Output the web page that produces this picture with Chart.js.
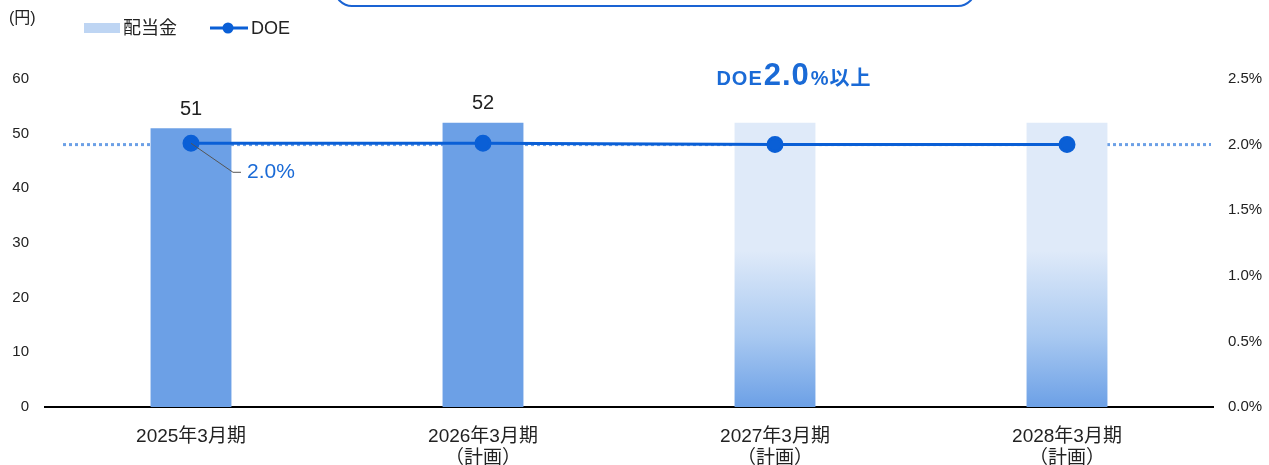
<!DOCTYPE html>
<html>
<head>
<meta charset="utf-8">
<script src="https://cdn.jsdelivr.net/npm/chart.js@4"></script>
<style>
  html, body { margin: 0; padding: 0; background: #fff; }
  #wrap { position: relative; width: 1269px; height: 465px; overflow: hidden; }
  #topbox { position: absolute; left: 334px; top: -40px; width: 638px; height: 43px;
            border: 2px solid #1a63d3; border-radius: 18px; }
</style>
</head>
<body>
<div id="wrap">
  <div id="topbox"></div>
  <canvas id="chart" width="1269" height="465"></canvas>
</div>
<script>
const categories = [['2025年3月期'], ['2026年3月期', '（計画）'], ['2027年3月期', '（計画）'], ['2028年3月期', '（計画）']]
const dividend = [51, 52, 52, 52]
const doe = [2.01, 2.01, 2.0, 2.0]
const planGradient = [false, false, true, true]
const showValue = [true, true, false, false]
const yTicks = [0, 10, 20, 30, 40, 50, 60]
const y1Ticks = [0, 0.5, 1.0, 1.5, 2.0, 2.5]
const doeTarget = 2.0

const font = '"Liberation Sans", "Noto Sans CJK JP", sans-serif'
const barBlue = '#6ca0e6'
const lightBlue = '#dfeaf9'
const lineBlue = '#0a5fd6'
const textBlue = '#1a6ad6'

const ctx = document.getElementById('chart');

function barColor(c) {
  const i = c.dataIndex;
  if (!planGradient[i]) return barBlue;
  const chart = c.chart;
  const area = chart.chartArea;
  if (!area) return lightBlue;
  const y = chart.scales.y;
  const top = y.getPixelForValue(dividend[i]);
  const g = chart.ctx.createLinearGradient(0, top, 0, area.bottom);
  g.addColorStop(0, lightBlue);
  g.addColorStop(0.45, lightBlue);
  g.addColorStop(0.75, '#a9c9f1');
  g.addColorStop(1, barBlue);
  return g;
}

// dotted 2.0% target line behind the bars
const targetLine = {
  id: 'targetLine',
  beforeDatasetsDraw(chart) {
    const c = chart.ctx;
    const y = chart.scales.y1.getPixelForValue(doeTarget);
    c.save();
    c.strokeStyle = barBlue;
    c.lineWidth = 3;
    c.setLineDash([3, 3]);
    c.beginPath();
    c.moveTo(chart.chartArea.left + 18, y);
    c.lineTo(chart.chartArea.right - 2, y);
    c.stroke();
    c.restore();
  }
};

const extras = {
  id: 'extras',
  afterDraw(chart) {
    const c = chart.ctx;
    const x = chart.scales.x;
    const y = chart.scales.y;
    const y1 = chart.scales.y1;
    c.save();
    c.textBaseline = 'middle';

    // value labels
    c.fillStyle = '#222';
    c.font = '20px ' + font;
    c.textAlign = 'center';
    dividend.forEach((v, i) => {
      if (!showValue[i]) return;
      c.fillText(String(v), x.getPixelForValue(i), y.getPixelForValue(v) - 19);
    });

    // DOE leader + label
    const px = x.getPixelForValue(0), py = y1.getPixelForValue(doe[0]);
    c.strokeStyle = '#555';
    c.lineWidth = 1;
    c.beginPath();
    c.moveTo(px, py);
    c.lineTo(px + 42, py + 29);
    c.lineTo(px + 50, py + 29);
    c.stroke();
    c.fillStyle = textBlue;
    c.textAlign = 'left';
    c.font = '21px ' + font;
    c.fillText(doe[0].toFixed(1) + '%', px + 56, py + 29);

    // DOE2.0%以上 note
    const parts = [['DOE', 'bold 20px '], ['2.0', 'bold 31px '], ['%以上', 'bold 20px ']];
    c.letterSpacing = '1px';
    let w = 0;
    parts.forEach(p => { c.font = p[1] + font; w += c.measureText(p[0]).width; });
    let sx = 793 - w / 2;
    c.textBaseline = 'alphabetic';
    parts.forEach(p => {
      c.font = p[1] + font;
      c.fillText(p[0], sx, 85);
      sx += c.measureText(p[0]).width + 1;
    });
    c.letterSpacing = '0px';

    // unit + legend
    c.fillStyle = '#222';
    c.textBaseline = 'middle';
    c.font = '16px ' + font;
    c.fillText('(円)', 9, 19);
    c.font = '18px ' + font;
    c.fillStyle = '#bed5f3';
    c.fillRect(84, 23, 36, 10);
    c.fillStyle = '#222';
    c.fillText(chart.data.datasets[1].label, 123, 29);
    c.strokeStyle = lineBlue;
    c.lineWidth = 3;
    c.beginPath();
    c.moveTo(210, 28);
    c.lineTo(248, 28);
    c.stroke();
    c.fillStyle = lineBlue;
    c.beginPath();
    c.arc(228, 28, 5.5, 0, Math.PI * 2);
    c.fill();
    c.fillStyle = '#222';
    c.fillText(chart.data.datasets[0].label, 251, 29);
    c.restore();
  }
};

const mychart = new Chart(ctx, {
  type: 'bar',
  data: {
    labels: categories,
    datasets: [{
      type: 'line',
      label: 'DOE',
      data: doe,
      yAxisID: 'y1',
      borderColor: lineBlue,
      backgroundColor: lineBlue,
      borderWidth: 3,
      pointRadius: 7,
      pointHoverRadius: 7,
      order: 0
    }, {
      label: '配当金',
      data: dividend,
      yAxisID: 'y',
      backgroundColor: barColor,
      barPercentage: 0.277,
      categoryPercentage: 1,
      order: 1
    }]
  },
  options: {
    responsive: false,
    animation: false,
    layout: { padding: { top: 79 } },
    plugins: {
      legend: { display: false },
      tooltip: { enabled: false }
    },
    scales: {
      x: {
        grid: { display: false, drawTicks: false },
        border: { display: true, color: '#000', width: 2 },
        ticks: { color: '#222', font: { size: 19, family: font, lineHeight: '22px' }, padding: 19, maxRotation: 0 },
        afterFit(s) { s.height = 58; }
      },
      y: {
        position: 'left',
        min: 0, max: 60,
        afterBuildTicks(s) { s.ticks = yTicks.map(v => ({ value: v })); },
        grid: { display: false, drawTicks: false },
        border: { display: false },
        ticks: { color: '#222', font: { size: 15, family: font }, padding: 16 },
        afterFit(s) { s.width = 45; }
      },
      y1: {
        position: 'right',
        min: 0, max: 2.5,
        afterBuildTicks(s) { s.ticks = y1Ticks.map(v => ({ value: v })); },
        grid: { display: false, drawTicks: false },
        border: { display: false },
        ticks: { color: '#222', font: { size: 15, family: font }, padding: 15,
                 callback: v => v.toFixed(1) + '%' },
        afterFit(s) { s.width = 56; }
      }
    }
  },
  plugins: [targetLine, extras]
});
</script>
</body>
</html>
